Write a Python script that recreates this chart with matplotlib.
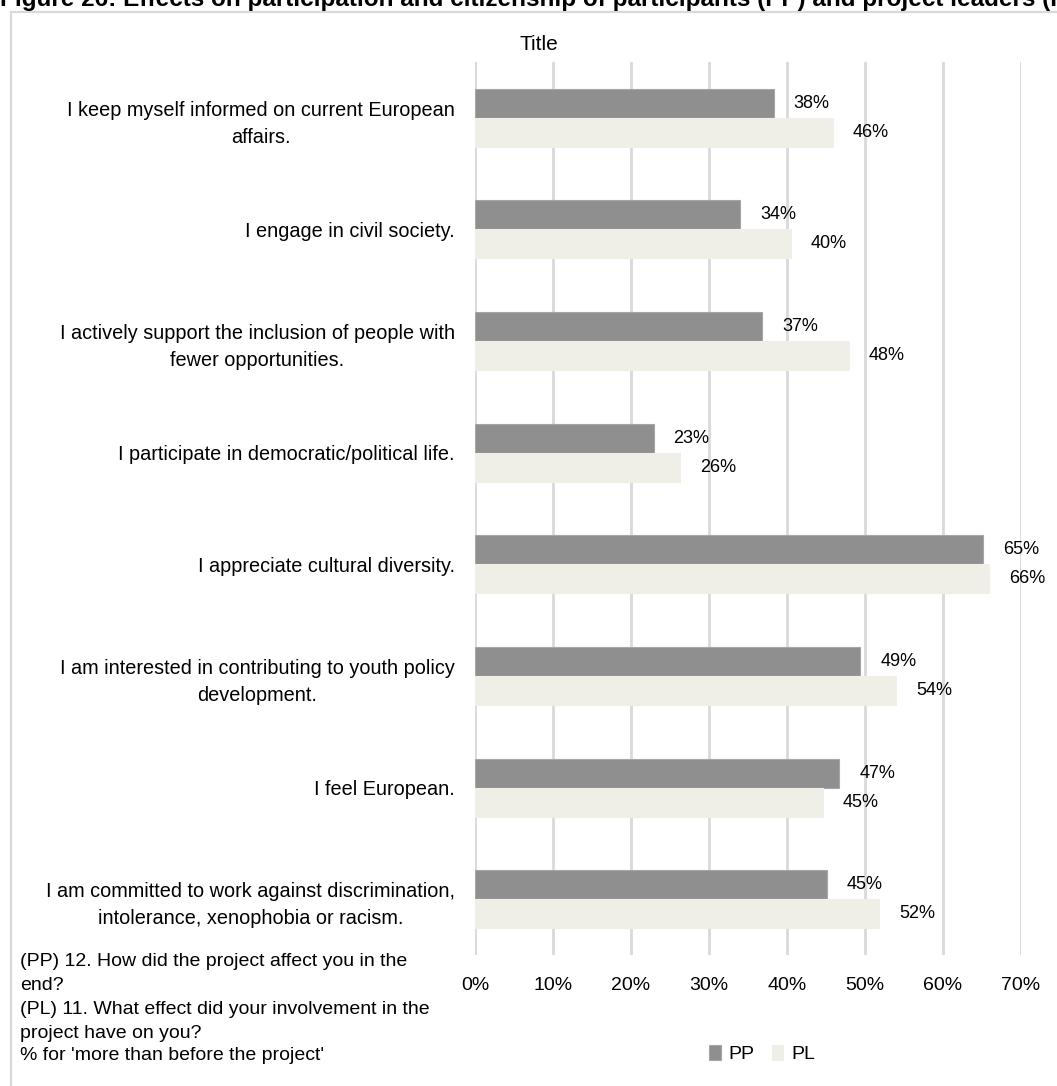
import numpy as np
import matplotlib
matplotlib.use("Agg")
import matplotlib.pyplot as plt
from matplotlib.patches import Rectangle

categories = [
    "I keep myself informed on current European\naffairs.",
    "I engage in civil society.",
    "I actively support the inclusion of people with\nfewer opportunities.",
    "I participate in democratic/political life.",
    "I appreciate cultural diversity.",
    "I am interested in contributing to youth policy\ndevelopment.",
    "I feel European.",
    "I am committed to work against discrimination,\nintolerance, xenophobia or racism.",
]
pp_values = [0.383, 0.340, 0.368, 0.229, 0.651, 0.494, 0.467, 0.451]
pl_values = [0.459, 0.405, 0.479, 0.263, 0.659, 0.540, 0.446, 0.518]
xticks = [0, 0.1, 0.2, 0.3, 0.4, 0.5, 0.6, 0.7]
notes = ["(PP) 12. How did the project affect you in the", "end?",
         "(PL) 11. What effect did your involvement in the",
         "project have on you?", "% for 'more than before the project'"]

plt.rcParams["font.family"] = ["Liberation Sans Narrow", "Liberation Sans", "DejaVu Sans"]

PP_COLOR = "#8f8f8f"
PL_COLOR = "#efefe7"
GRID = "#d9d9d9"

W, H = 1057, 1086
fig = plt.figure(figsize=(W / 100, H / 100), dpi=100)

# outer frame and the caption that is clipped at the top/right
fig.patches.append(Rectangle((10.5 / W, -0.1), 1.2, 1 - 12.5 / H + 0.1,
                             transform=fig.transFigure, fill=False,
                             edgecolor=GRID, linewidth=1.6))
fig.text(0.0, 1 - 6 / H,
         "Figure 26: Effects on participation and citizenship of participants (PP) and project leaders (PL)",
         fontsize=17.5, fontweight="bold", va="baseline", ha="left")

ax = fig.add_axes([475 / W, 1 - 955 / H, 546 / W, 893 / H])
y = np.arange(len(categories))
h = 0.26
ax.barh(y - h / 2, pp_values, height=h, color=PP_COLOR, edgecolor="#a6a6a6",
        linewidth=0.8, label="PP", zorder=3)
ax.barh(y + h / 2, pl_values, height=h, color=PL_COLOR, edgecolor=PL_COLOR,
        linewidth=0.8, label="PL", zorder=3)

for i in range(len(categories)):
    ax.annotate(f"{pp_values[i] * 100:.0f}%", (pp_values[i], y[i] - h / 2),
                xytext=(20, 0), textcoords="offset pixels", va="center",
                ha="left", fontsize=13)
    ax.annotate(f"{pl_values[i] * 100:.0f}%", (pl_values[i], y[i] + h / 2),
                xytext=(20, 0), textcoords="offset pixels", va="center",
                ha="left", fontsize=13)

ax.set_xlim(0, 0.7)
ax.set_ylim(len(categories) - 0.5, -0.5)
ax.set_xticks(xticks)
ax.set_xticklabels([f"{t * 100:.0f}%" for t in xticks], fontsize=14)
ax.set_yticks(y)
ax.set_yticklabels(categories, fontsize=14.3, ha="right",
                   multialignment="center", linespacing=1.55)
ax.tick_params(axis="y", length=0, pad=14.4)
ax.tick_params(axis="x", length=0, pad=16)
for s in ax.spines.values():
    s.set_visible(False)
ax.grid(axis="x", color=GRID, linewidth=2, zorder=0)
ax.set_axisbelow(True)

fig.text(539 / W, 1 - 44 / H, "Title", fontsize=15, ha="center", va="center")

note_y = [962, 986, 1010, 1033, 1056]
for line, ny in zip(notes, note_y):
    fig.text(20 / W, 1 - ny / H, line, fontsize=14, ha="left", va="center")

fig.legend(loc="center", bbox_to_anchor=(762 / W, 1 - 1054 / H), ncol=2,
           frameon=False, fontsize=14, handlelength=0.6, handleheight=0.85,
           handletextpad=0.4, columnspacing=0.9)

fig.savefig("out.png", dpi=100)
